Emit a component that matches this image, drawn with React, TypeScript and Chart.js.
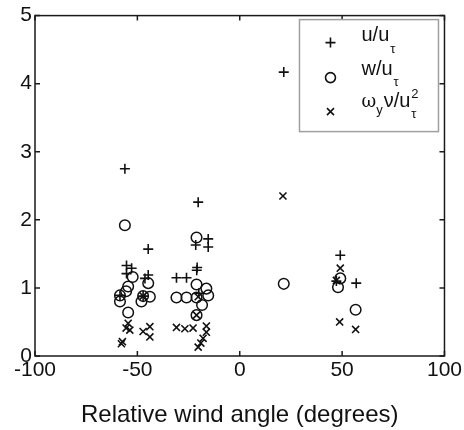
import React, { useEffect, useRef } from 'react';
import { Chart, registerables } from 'chart.js';

Chart.register(...registerables);

// Tick values
const xTicks = [-100, -50, 0, 50, 100];
const yTicks = [0, 1, 2, 3, 4, 5];

// u/u_tau (plus markers)
const uAngle = [-56.1, -55.3, -52.8, -55.3, -58.5, -44.7, -44.7, -46.3, -47.2, -30.9, -26.0, -20.3, -21.5, -15.4, -15.4, -20.8, -21.0, -20.0, 21.5, 49.1, 47.2, 56.9];
const uValue = [2.75, 1.33, 1.29, 1.21, 0.89, 1.57, 1.19, 1.14, 0.88, 1.15, 1.15, 2.26, 1.63, 1.72, 1.60, 1.30, 1.26, 0.92, 4.17, 1.48, 1.10, 1.07];

// w/u_tau (circle markers)
const wAngle = [-56.1, -52.3, -54.5, -55.5, -58.5, -58.5, -54.5, -44.7, -47.2, -48.0, -43.9, -30.9, -26.0, -21.1, -21.1, -21.1, -16.3, -15.4, -18.4, -21.1, 21.5, 49.1, 48.0, 56.6];
const wValue = [1.92, 1.16, 1.02, 0.95, 0.89, 0.80, 0.64, 1.07, 0.88, 0.80, 0.87, 0.86, 0.86, 0.86, 1.74, 1.05, 0.99, 0.89, 0.75, 0.60, 1.06, 1.14, 1.01, 0.68];

// omega_y nu / u_tau^2 (x markers)
const oAngle = [-54.5, -53.7, -55.5, -47.2, -43.9, -43.9, -57.8, -57.3, -47.2, -30.9, -26.8, -22.8, -16.3, -16.3, -17.9, -20.3, -19.0, -21.1, -20.3, 21.1, 49.1, 47.2, 48.8, 56.6];
const oValue = [0.48, 0.38, 0.41, 0.36, 0.43, 0.28, 0.18, 0.21, 0.88, 0.42, 0.40, 0.41, 0.44, 0.35, 0.26, 0.13, 0.19, 0.60, 0.87, 2.35, 1.29, 1.11, 0.50, 0.39];

const toPoints = (xs: number[], ys: number[]) => xs.map((x, i) => ({ x, y: ys[i] }));

const FONT = "'Liberation Sans', Arial, Helvetica, sans-serif";
const INK = '#111111';

const framePlugin = {
  id: 'matlabFrame',
  beforeDatasetsDraw(chart: any) {
    const { ctx, chartArea: ca, scales } = chart;
    ctx.save();
    ctx.strokeStyle = '#1a1a1a';
    ctx.lineWidth = 1.5;
    ctx.strokeRect(ca.left, ca.top, ca.right - ca.left, ca.bottom - ca.top);
    const L = 5;
    ctx.beginPath();
    xTicks.forEach((v) => {
      const px = scales.x.getPixelForValue(v);
      ctx.moveTo(px, ca.bottom);
      ctx.lineTo(px, ca.bottom - L);
      ctx.moveTo(px, ca.top);
      ctx.lineTo(px, ca.top + L);
    });
    yTicks.forEach((v) => {
      const py = scales.y.getPixelForValue(v);
      ctx.moveTo(ca.left, py);
      ctx.lineTo(ca.left + L, py);
      ctx.moveTo(ca.right, py);
      ctx.lineTo(ca.right - L, py);
    });
    ctx.stroke();
    ctx.restore();
  },
  afterDraw(chart: any) {
    const { ctx, chartArea: ca } = chart;
    const bx = ca.right - 145;
    const by = ca.top + 4;
    const bw = 139;
    const bh = 112;
    ctx.save();
    ctx.fillStyle = '#ffffff';
    ctx.fillRect(bx, by, bw, bh);
    ctx.strokeStyle = '#a0a0a0';
    ctx.lineWidth = 1.5;
    ctx.strokeRect(bx, by, bw, bh);

    // markers
    ctx.strokeStyle = INK;
    ctx.lineWidth = 1.6;
    const mx = bx + 31;
    // plus
    ctx.beginPath();
    ctx.moveTo(mx - 5, by + 23);
    ctx.lineTo(mx + 5, by + 23);
    ctx.moveTo(mx, by + 18);
    ctx.lineTo(mx, by + 28);
    ctx.stroke();
    // circle
    ctx.beginPath();
    ctx.arc(mx, by + 58, 5, 0, Math.PI * 2);
    ctx.stroke();
    // x
    const cy = by + 92;
    ctx.beginPath();
    ctx.moveTo(mx - 3.5, cy - 3.5);
    ctx.lineTo(mx + 3.5, cy + 3.5);
    ctx.moveTo(mx + 3.5, cy - 3.5);
    ctx.lineTo(mx - 3.5, cy + 3.5);
    ctx.stroke();

    // text
    ctx.fillStyle = INK;
    ctx.textBaseline = 'alphabetic';
    ctx.textAlign = 'left';
    const tx = bx + 62;
    const big = `20px ${FONT}`;
    const small = `13px ${FONT}`;
    const put = (s: string, x: number, y: number, f: string) => {
      ctx.font = f;
      ctx.fillText(s, x, y);
      return x + ctx.measureText(s).width;
    };
    // line 1
    const x1 = put('u/u', tx, by + 21, big);
    put('τ', x1 + 1, by + 33, small);
    // line 2
    const x2 = put('w/u', tx, by + 55, big);
    put('τ', x2 + 1, by + 66, small);
    // line 3
    let x3 = put('ω', tx, by + 87, `18px 'DejaVu Serif', serif`);
    x3 = put('y', x3, by + 94, small);
    x3 = put('ν/u', x3 + 1, by + 87, big);
    put('2', x3 + 1, by + 78, small);
    put('τ', x3 + 1, by + 98, small);
    ctx.restore();
  },
};

export default function App() {
  const ref = useRef<HTMLCanvasElement | null>(null);

  useEffect(() => {
    if (!ref.current) return;
    const chart = new Chart(ref.current, {
      type: 'scatter',
      data: {
        datasets: [
          {
            label: 'u/uτ',
            data: toPoints(uAngle, uValue),
            pointStyle: 'cross',
            pointRadius: 5,
            borderColor: INK,
            backgroundColor: INK,
            borderWidth: 1.6,
          },
          {
            label: 'w/uτ',
            data: toPoints(wAngle, wValue),
            pointStyle: 'circle',
            pointRadius: 5.3,
            borderColor: INK,
            backgroundColor: 'rgba(0,0,0,0)',
            borderWidth: 1.5,
          },
          {
            label: 'ωyν/uτ²',
            data: toPoints(oAngle, oValue),
            pointStyle: 'crossRot',
            pointRadius: 5,
            borderColor: INK,
            backgroundColor: INK,
            borderWidth: 1.6,
          },
        ],
      },
      options: {
        animation: false,
        responsive: true,
        maintainAspectRatio: false,
        layout: { padding: { top: 15, right: 19, bottom: 0, left: 0 } },
        plugins: {
          legend: { display: false },
          tooltip: { enabled: false },
        },
        scales: {
          x: {
            type: 'linear',
            min: -100,
            max: 100,
            afterBuildTicks: (s: any) => {
              s.ticks = xTicks.map((v) => ({ value: v }));
            },
            afterFit: (s: any) => {
              s.height = 74;
            },
            grid: { display: false, drawTicks: false },
            border: { display: false },
            ticks: {
              autoSkip: false,
              maxRotation: 0,
              padding: 2,
              color: INK,
              font: { family: FONT, size: 21 },
            },
            title: {
              display: true,
              text: 'Relative wind angle (degrees)',
              color: INK,
              font: { family: FONT, size: 24 },
              padding: { top: 0, bottom: 0 },
            },
          },
          y: {
            type: 'linear',
            min: 0,
            max: 5,
            afterBuildTicks: (s: any) => {
              s.ticks = yTicks.map((v) => ({ value: v }));
            },
            afterFit: (s: any) => {
              s.width = 35;
            },
            grid: { display: false, drawTicks: false },
            border: { display: false },
            ticks: {
              padding: 3,
              color: INK,
              font: { family: FONT, size: 21 },
            },
          },
        },
      },
      plugins: [framePlugin],
    });
    return () => chart.destroy();
  }, []);

  return (
    <div style={{ position: 'absolute', left: 0, top: 0, width: 464, height: 430, background: '#fff' }}>
      <canvas ref={ref} />
    </div>
  );
}
